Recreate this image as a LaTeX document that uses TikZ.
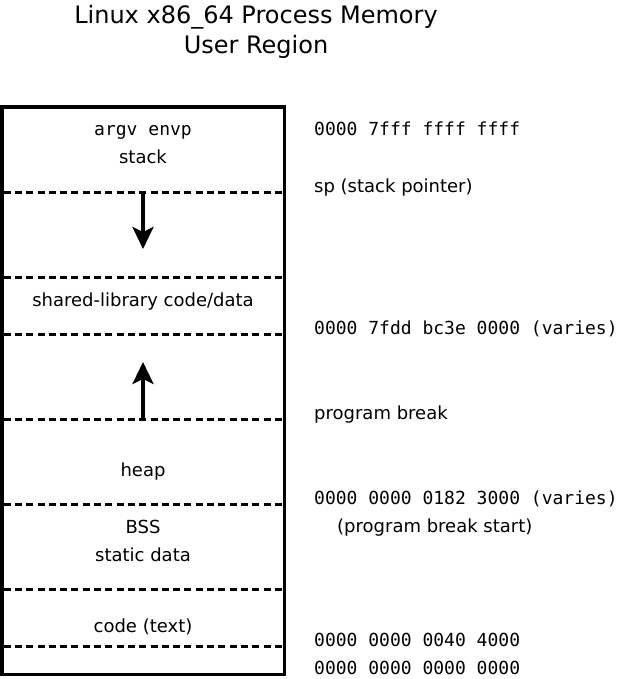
\documentclass[tikz,border=0pt]{standalone}
\usepackage{fontspec}
\setmainfont{DejaVu Sans}
\setmonofont{DejaVu Sans Mono}
\usetikzlibrary{arrows.meta}
\begin{document}
\begin{tikzpicture}[x=1pt,y=-1pt,
  lbl/.style={anchor=base,inner sep=0pt,font=\fontsize{18}{21}\selectfont},
  addr/.style={anchor=base west,inner sep=0pt,font=\fontsize{18}{21}\ttfamily},
  note/.style={anchor=base west,inner sep=0pt,font=\fontsize{18}{21}\selectfont},
  mono/.style={anchor=base,inner sep=0pt,font=\fontsize{18}{21}\ttfamily},
  ttl/.style={anchor=base,inner sep=0pt,font=\fontsize{24}{28}\selectfont},
  sep/.style={line width=3pt,dash pattern=on 7pt off 4.3pt},
  frame/.style={line width=3.6pt},
  growarrow/.style={line width=3.2pt,-{Stealth[length=22pt,width=21pt,inset=5pt]}}]
\useasboundingbox (0,0) rectangle (619,679);
% title
\node[ttl] (t1) at (256,24) {Linux x86\_64 Process Memory};
\node[ttl] (t2) at (256,54) {User Region};
% frame
\draw[frame] (1.8,107) rectangle (284.5,674.5);
% separators
\foreach \y/\n in {192/s1,277/s2,334/s3,419/s4,504/s5,589/s6,646/s7}{
  \coordinate (\n l) at (3.6,\y);
  \coordinate (\n r) at (282.7,\y);
  \draw[sep] (\n l) -- (\n r);
}
% arrows
\coordinate (a1s) at (143,192);
\coordinate (a1e) at (143,249);
\coordinate (a2s) at (143,419);
\coordinate (a2e) at (143,362);
\draw[growarrow] (a1s) -- (a1e);
\draw[growarrow] (a2s) -- (a2e);
% region labels
\node[mono] (argv) at (143,136) {argv envp};
\node[lbl] (stack) at (143,164) {stack};
\node[lbl] (shlib) at (143,306) {shared-library code/data};
\node[lbl] (heap) at (143,476) {heap};
\node[lbl] (bss) at (143,533) {BSS};
\node[lbl] (sdata) at (143,561) {static data};
\node[lbl] (code) at (143,632) {code (text)};
% addresses
\node[addr] (ad1) at (314,136) {0000 7fff ffff ffff};
\node[note] (sp) at (314,193) {sp (stack pointer)};
\node[addr] (ad2) at (314,334) {0000 7fdd bc3e 0000 (varies)};
\node[note] (pb) at (314,419) {program break};
\node[addr] (ad3) at (314,504) {0000 0000 0182 3000 (varies)};
\node[note] (pbs) at (337,532) {(program break start)};
\node[addr] (ad4) at (314,646) {0000 0000 0040 4000};
\node[addr] (ad5) at (314,674) {0000 0000 0000 0000};
\end{tikzpicture}
\end{document}
